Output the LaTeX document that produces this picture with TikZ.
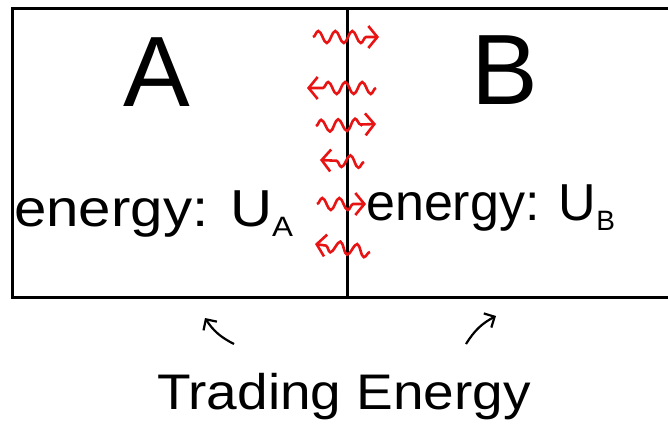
\documentclass[tikz,border=0pt]{standalone}
\usepackage{fontspec}
\setmainfont{Liberation Sans}
\usetikzlibrary{
	arrows.meta,
	decorations.pathmorphing,
	positioning
}
\definecolor{WaveRed}{RGB}{232,20,20}

\begin{document}
\begin{tikzpicture}[x=1pt,y=-1pt,
		wall/.style={line width=3pt,black},
		wave/.style={WaveRed,line width=2.6pt,-{Straight Barb[length=9pt,width=22pt]},
			decorate,decoration={snake,amplitude=6pt,segment length=17pt,post length=9pt}},
		hint/.style={line width=2.2pt,-{Straight Barb[length=8pt,width=16pt]}},
		big/.style={font=\fontsize{100}{100}\selectfont,inner sep=0pt},
		mid/.style={font=\fontsize{52}{52}\selectfont,inner sep=0pt}]
	\useasboundingbox (0,0) rectangle (668,437);
	\fill[white] (0,0) rectangle (668,437);

	% the box and the wall between A and B
	\draw[wall] (680,8) -- (12,8) -- (12,297) -- (680,297);
	\draw[wall] (347,8) -- (347,297);

	% labels
	\node[big] (A) at (157,72) {A};
	\node[big] (B) at (505,70) {B};
	\node[mid,xscale=1.12,anchor=base west] (UA) at (14,226) {energy: U\textsubscript{\fontsize{28}{28}\selectfont A}};
	\node[mid,anchor=base west] (UB) at (366,220) {energy: U\textsubscript{\fontsize{28}{28}\selectfont B}};

	% energy packets crossing the wall
	\coordinate (r1a) at (313,37);  \coordinate (r1b) at (379,37);
	\coordinate (l2a) at (376,88);  \coordinate (l2b) at (307,88);
	\coordinate (r3a) at (316,126); \coordinate (r3b) at (376,124);
	\coordinate (l4a) at (364,162); \coordinate (l4b) at (320,160);
	\coordinate (r5a) at (317,204); \coordinate (r5b) at (366,204);
	\coordinate (l6a) at (370,252); \coordinate (l6b) at (315,244);
	\foreach \p/\q in {r1a/r1b,l2a/l2b,r3a/r3b,l4a/l4b,r5a/r5b,l6a/l6b}
		\draw[wave] (\p) -- (\q);

	% pointers and caption
	\node[font=\fontsize{50}{50}\selectfont,inner sep=0pt,xscale=1.1] (trade) at (344,397) {Trading Energy};
	\coordinate (pa) at (234,344);
	\coordinate (pb) at (466,344);
	\draw[hint] (pa) to[bend left=15] (205,318);
	\draw[hint] (pb) to[bend left=15] (496,316);
\end{tikzpicture}
\end{document}
